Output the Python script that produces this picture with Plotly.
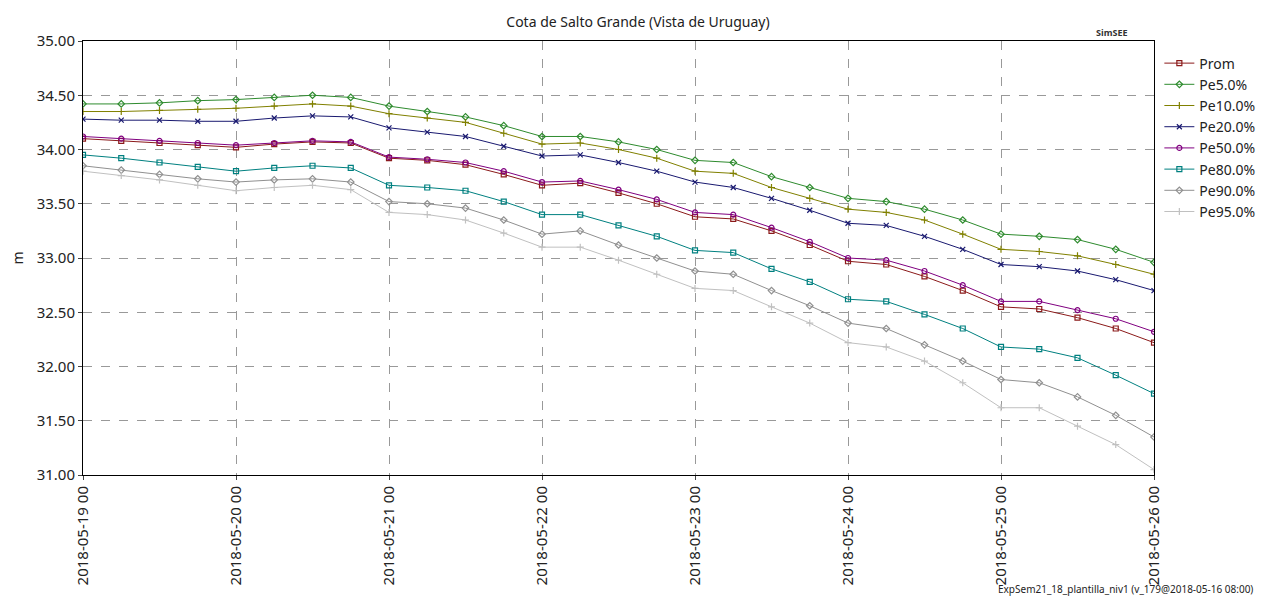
import plotly.graph_objects as go
import pandas as pd

# 6-hourly samples, 2018-05-19 00 .. 2018-05-26 00
times = pd.date_range("2018-05-19 00:00", "2018-05-26 00:00", freq="6h")

prom = [34.10, 34.08, 34.06, 34.04, 34.02, 34.05, 34.07, 34.06, 33.92, 33.90, 33.86, 33.77,
        33.67, 33.69, 33.60, 33.50, 33.38, 33.36, 33.25, 33.12, 32.97, 32.94, 32.83, 32.70,
        32.55, 32.53, 32.45, 32.35, 32.22]
pe5 = [34.42, 34.42, 34.43, 34.45, 34.46, 34.48, 34.50, 34.48, 34.40, 34.35, 34.30, 34.22,
       34.12, 34.12, 34.07, 34.00, 33.90, 33.88, 33.75, 33.65, 33.55, 33.52, 33.45, 33.35,
       33.22, 33.20, 33.17, 33.08, 32.96]
pe10 = [34.35, 34.35, 34.36, 34.37, 34.38, 34.40, 34.42, 34.40, 34.33, 34.29, 34.25, 34.15,
        34.05, 34.06, 34.00, 33.92, 33.80, 33.78, 33.65, 33.55, 33.45, 33.42, 33.35, 33.22,
        33.08, 33.06, 33.02, 32.94, 32.85]
pe20 = [34.28, 34.27, 34.27, 34.26, 34.26, 34.29, 34.31, 34.30, 34.20, 34.16, 34.12, 34.03,
        33.94, 33.95, 33.88, 33.80, 33.70, 33.65, 33.55, 33.44, 33.32, 33.30, 33.20, 33.08,
        32.94, 32.92, 32.88, 32.80, 32.70]
pe50 = [34.12, 34.10, 34.08, 34.06, 34.04, 34.06, 34.08, 34.07, 33.93, 33.91, 33.88, 33.80,
        33.70, 33.71, 33.63, 33.54, 33.42, 33.40, 33.28, 33.15, 33.00, 32.98, 32.88, 32.75,
        32.60, 32.60, 32.52, 32.44, 32.32]
pe80 = [33.95, 33.92, 33.88, 33.84, 33.80, 33.83, 33.85, 33.83, 33.67, 33.65, 33.62, 33.52,
        33.40, 33.40, 33.30, 33.20, 33.07, 33.05, 32.90, 32.78, 32.62, 32.60, 32.48, 32.35,
        32.18, 32.16, 32.08, 31.92, 31.75]
pe90 = [33.85, 33.81, 33.77, 33.73, 33.70, 33.72, 33.73, 33.70, 33.52, 33.50, 33.46, 33.35,
        33.22, 33.25, 33.12, 33.00, 32.88, 32.85, 32.70, 32.56, 32.40, 32.35, 32.20, 32.05,
        31.88, 31.85, 31.72, 31.55, 31.35]
pe95 = [33.80, 33.76, 33.72, 33.67, 33.62, 33.65, 33.67, 33.63, 33.42, 33.40, 33.35, 33.23,
        33.10, 33.10, 32.98, 32.85, 32.72, 32.70, 32.55, 32.40, 32.22, 32.18, 32.05, 31.85,
        31.62, 31.62, 31.45, 31.28, 31.05]

series = [
    ("Prom", prom, "#8b1a1a", "square-open"),
    ("Pe5.0%", pe5, "#2e8b2e", "diamond-open"),
    ("Pe10.0%", pe10, "#808000", "cross-thin"),
    ("Pe20.0%", pe20, "#191970", "x-thin"),
    ("Pe50.0%", pe50, "#800080", "circle-open"),
    ("Pe80.0%", pe80, "#008080", "square-open"),
    ("Pe90.0%", pe90, "#909090", "diamond-open"),
    ("Pe95.0%", pe95, "#c0c0c0", "cross-thin"),
]

fig = go.Figure()
for name, vals, color, sym in series:
    fig.add_trace(go.Scatter(
        x=times, y=vals, name=name, mode="lines+markers",
        line=dict(color=color, width=1),
        marker=dict(symbol=sym, size=5, color=color, line=dict(color=color, width=1.2)),
    ))

fig.update_layout(
    width=1260, height=594,
    margin=dict(l=75, r=114, t=33, b=127, autoexpand=False),
    paper_bgcolor="white", plot_bgcolor="white",
    font=dict(family="Noto Sans", size=14, color="#222"),
    title=dict(text="Cota de Salto Grande (Vista de Uruguay)", x=0.5, y=0.985,
               xanchor="center", font=dict(size=14)),
    legend=dict(x=1.005, y=0.985, xanchor="left", yanchor="top", font=dict(size=14),
                bgcolor="rgba(0,0,0,0)", tracegroupgap=0),
    showlegend=True,
)
fig.update_xaxes(
    range=[times[0], times[-1]], tickformat="%Y-%m-%d %H", dtick=86400000,
    tickangle=-90, tickfont=dict(size=15), automargin=False,
    showgrid=True, gridcolor="#999", griddash="dash", gridwidth=1,
    showline=True, linecolor="black", mirror=True, ticks="outside", ticklen=4,
)
fig.update_yaxes(
    range=[31, 35], dtick=0.5, tickformat=".2f", tickfont=dict(size=15), automargin=False,
    title=dict(text="m", font=dict(size=14)),
    showgrid=True, gridcolor="#999", griddash="dash", gridwidth=1,
    showline=True, linecolor="black", mirror=True, ticks="outside", ticklen=4,
)
fig.add_annotation(text="<b>SimSEE</b>", xref="paper", yref="paper", x=0.96, y=1.0,
                   xanchor="center", yanchor="bottom", showarrow=False,
                   font=dict(size=9, color="#333"))
fig.add_annotation(text="ExpSem21_18_plantilla_niv1 (v_179@2018-05-16 08:00)",
                   xref="paper", yref="paper", x=1.094, y=-0.283, xanchor="right",
                   yanchor="bottom", showarrow=False, font=dict(size=10, color="#222"))

fig.write_html("out.html")
